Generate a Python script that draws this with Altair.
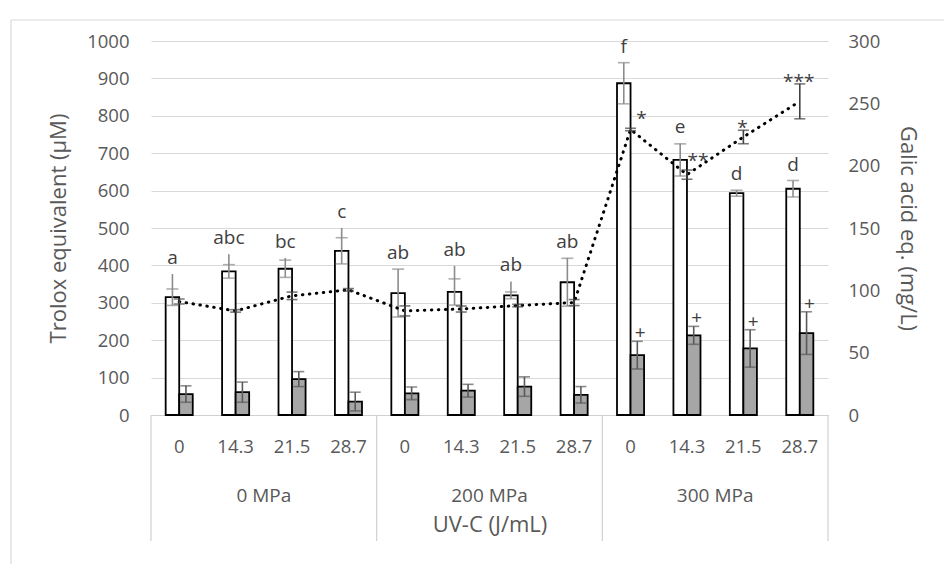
import altair as alt
import pandas as pd

# ---- data ----
pressure = ["0 MPa"] * 4 + ["200 MPa"] * 4 + ["300 MPa"] * 4
uvc = ["0", "14.3", "21.5", "28.7"] * 3
trolox = [315, 384, 391, 439, 326, 329, 320, 355, 887, 682, 593, 605]
trolox_err = [22, 18, 23, 35, 64, 35, 9, 64, 55, 43, 8, 22]
trolox_whisker = [377, 430, 420, 500, 390, 399, 357, 420, 942, 726, 601, 627]
trolox_letters = ["a", "abc", "bc", "c", "ab", "ab", "ab", "ab", "f", "e", "d", "d"]
second = [56, 61, 96, 36, 58, 65, 76, 54, 160, 213, 178, 219]
second_err = [22, 27, 20, 25, 17, 17, 26, 22, 37, 24, 50, 57]
second_marks = ["", "", "", "", "", "", "", "", "+", "+", "+", "+"]
galic = [91, 83.5, 95.6, 100.4, 83.5, 85, 87.8, 90.2, 229, 192.8, 223, 251.6]
galic_err = [2, 1, 3, 1, 4, 2.4, 1, 2.4, 1, 3.7, 5.4, 14]
galic_stars = ["", "", "", "", "", "", "", "", "*", "**", "*", "***"]
group_names = ["0 MPa", "200 MPa", "300 MPa"]
group_mid = [2, 6, 10]
group_edges = [0, 4, 8, 12]

FONT = "Open Sans"
W, H = 677, 374
keys = [f"{p}|{u}" for p, u in zip(pressure, uvc)]

dfT = pd.DataFrame({
    "key": keys, "series": "T", "value": trolox,
    "lo": [v - e for v, e in zip(trolox, trolox_err)],
    "hi": [v + e for v, e in zip(trolox, trolox_err)],
    "top": trolox_whisker, "label": trolox_letters,
})
dfG = pd.DataFrame({
    "key": keys, "series": "G", "value": second,
    "lo": [v - e for v, e in zip(second, second_err)],
    "hi": [v + e for v, e in zip(second, second_err)],
    "label": second_marks,
})
dfB = pd.concat([dfT, dfG], ignore_index=True)
dfL = pd.DataFrame({
    "key": keys, "value": galic,
    "lo": [v - e for v, e in zip(galic, galic_err)],
    "hi": [v + e for v, e in zip(galic, galic_err)],
    "label": galic_stars,
})
dfGroups = pd.DataFrame({"mid": group_mid, "name": group_names})
dfEdges = pd.DataFrame({"edge": group_edges})


def xband():
    return alt.Scale(domain=keys, paddingInner=0.52, paddingOuter=0.26)


def xoff():
    return alt.XOffset("series:N", scale=alt.Scale(domain=["T", "G"], paddingInner=0, paddingOuter=0))


def Xp():
    return alt.X("key:N", scale=xband(), sort=keys, axis=None)


def yl(field):
    return alt.Y(field, scale=alt.Scale(domain=[0, 1000], nice=False), axis=None)


def yr(field):
    return alt.Y(field, scale=alt.Scale(domain=[0, 300], nice=False), axis=None)


axis_common = dict(
    labelFontSize=18.5, titleFontSize=22, labelColor="#595959", titleColor="#595959",
    labelFont=FONT, titleFont=FONT, titleFontWeight="normal",
)

X_main = alt.X(
    "key:N", scale=xband(), sort=keys,
    axis=alt.Axis(
        title="UV-C (J/mL)", labelExpr="split(datum.label, '|')[1]", labelAngle=0,
        ticks=False, domainColor="#d0d0d0", domainWidth=1.2, grid=False,
        labelPadding=22, titlePadding=59, **axis_common,
    ),
)
Y_left = alt.Y(
    "value:Q", scale=alt.Scale(domain=[0, 1000], nice=False),
    axis=alt.Axis(
        title="Trolox equivalent (µM)", values=list(range(0, 1001, 100)), format="d",
        grid=True, gridColor="#d9d9d9", gridWidth=1.2, domain=False, ticks=False,
        labelPadding=22, titlePadding=16, **axis_common,
    ),
)
Y_right = alt.Y(
    "value:Q", scale=alt.Scale(domain=[0, 300], nice=False),
    axis=alt.Axis(
        orient="right", title="Galic acid eq. (mg/L)", values=list(range(0, 301, 50)), format="d",
        grid=False, domain=False, ticks=False,
        labelPadding=20, titlePadding=16, **axis_common,
    ),
)

bars = alt.Chart(dfB).mark_bar(stroke="black", strokeWidth=1.8).encode(
    x=X_main, xOffset=xoff(), y=Y_left,
    fill=alt.Fill("series:N", scale=alt.Scale(domain=["T", "G"], range=["white", "#a6a6a6"]), legend=None),
)

t_rule = alt.Chart(dfT).mark_rule(color="#8c8c8c", strokeWidth=1.6).encode(
    x=Xp(), xOffset=xoff(), y=yl("lo:Q"), y2="top:Q")
t_caps_hi = alt.Chart(dfT).mark_tick(color="#8c8c8c", orient="horizontal", size=12, thickness=1.6).encode(
    x=Xp(), xOffset=xoff(), y=yl("hi:Q"))
t_caps_lo = alt.Chart(dfT).mark_tick(color="#8c8c8c", orient="horizontal", size=12, thickness=1.6).encode(
    x=Xp(), xOffset=xoff(), y=yl("lo:Q"))
t_text = alt.Chart(dfT).mark_text(font=FONT, fontSize=19, color="#404040", baseline="alphabetic", dy=-10).encode(
    x=Xp(), xOffset=xoff(), y=yl("top:Q"), text="label:N")

g_rule = alt.Chart(dfG).mark_rule(color="#595959", strokeWidth=1.6).encode(
    x=Xp(), xOffset=xoff(), y=yl("lo:Q"), y2="hi:Q")
g_caps_hi = alt.Chart(dfG).mark_tick(color="#595959", orient="horizontal", size=11, thickness=1.6).encode(
    x=Xp(), xOffset=xoff(), y=yl("hi:Q"))
g_caps_lo = alt.Chart(dfG).mark_tick(color="#595959", orient="horizontal", size=11, thickness=1.6).encode(
    x=Xp(), xOffset=xoff(), y=yl("lo:Q"))
g_text = alt.Chart(dfG).mark_text(font=FONT, fontSize=19, color="#404040", baseline="alphabetic", dx=3, dy=-2).encode(
    x=Xp(), xOffset=xoff(), y=yl("hi:Q"), text="label:N")

line = alt.Chart(dfL).mark_line(color="black", strokeWidth=3, strokeDash=[0.5, 6.5], strokeCap="round").encode(
    x=Xp(), y=Y_right)
l_rule = alt.Chart(dfL).mark_rule(color="#404040", strokeWidth=1.6).encode(
    x=Xp(), y=yr("lo:Q"), y2="hi:Q")
l_caps_hi = alt.Chart(dfL).mark_tick(color="#404040", orient="horizontal", size=11, thickness=1.6).encode(
    x=Xp(), y=yr("hi:Q"))
l_caps_lo = alt.Chart(dfL).mark_tick(color="#404040", orient="horizontal", size=11, thickness=1.6).encode(
    x=Xp(), y=yr("lo:Q"))
stars_a = alt.Chart(dfL.iloc[8:10]).mark_text(font=FONT, fontSize=19, color="#404040", baseline="alphabetic", dx=11, dy=-3).encode(
    x=Xp(), y=yr("hi:Q"), text="label:N")
stars_b = alt.Chart(dfL.iloc[10:12]).mark_text(font=FONT, fontSize=19, color="#404040", baseline="alphabetic", dx=-1, dy=4).encode(
    x=Xp(), y=yr("hi:Q"), text="label:N")

xq = alt.Scale(domain=[0, 12], nice=False, zero=False)
edges = alt.Chart(dfEdges).mark_rule(color="#d0d0d0", strokeWidth=1.2).encode(
    x=alt.X("edge:Q", scale=xq, axis=None), y=alt.value(H), y2=alt.value(H + 126))
glabels = alt.Chart(dfGroups).mark_text(font=FONT, fontSize=19, color="#595959", baseline="middle").encode(
    x=alt.X("mid:Q", scale=xq, axis=None), y=alt.value(H + 81), text="name:N")
border_l = alt.Chart(dfEdges.iloc[:1]).mark_rule(color="#d9d9d9", strokeWidth=1.2).encode(
    x=alt.value(-140), y=alt.value(-21), y2=alt.value(523))
border_t = alt.Chart(dfEdges.iloc[:1]).mark_rule(color="#d9d9d9", strokeWidth=1.2).encode(
    x=alt.value(-140), x2=alt.value(793), y=alt.value(-21))

chart = alt.layer(
    bars, t_rule, t_caps_hi, t_caps_lo, g_rule, g_caps_hi, g_caps_lo, t_text, g_text,
    line, l_rule, l_caps_hi, l_caps_lo, stars_a, stars_b,
    edges, glabels, border_l, border_t,
).resolve_scale(y="independent", x="independent").properties(
    width=W, height=H,
    autosize=alt.AutoSizeParams(type="none"),
    padding={"left": 151, "top": 41, "right": 946 - 151 - W, "bottom": 566 - 41 - H},
).configure(background="white", view=alt.ViewConfig(stroke="transparent"))

chart.save("out.html", embed_options={"renderer": "svg", "actions": False})
